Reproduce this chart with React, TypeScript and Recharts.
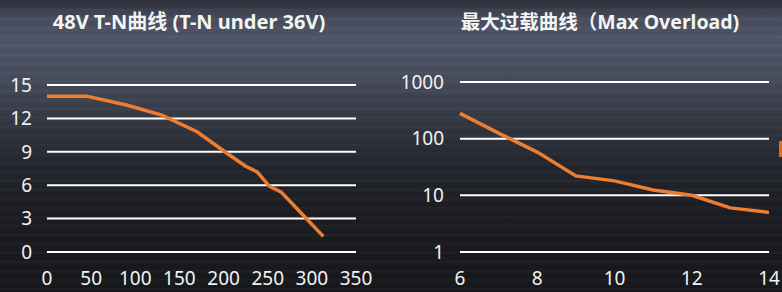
import React from 'react';
import { LineChart, Line, XAxis, YAxis, CartesianGrid } from 'recharts';

// T-N curve (speed rpm vs torque)
const tnSpeed = [0, 45, 90, 130, 170, 205, 225, 238, 252, 265, 283, 295, 313];
const tnTorque = [14, 14, 13.2, 12.3, 10.8, 8.8, 7.7, 7.2, 5.9, 5.4, 3.9, 2.9, 1.4];
const tnXTicks = [0, 50, 100, 150, 200, 250, 300, 350];
const tnYTicks = [0, 3, 6, 9, 12, 15];

// Max overload curve (log scale)
const olX = [6, 7, 8, 9, 10, 11, 12, 13, 14];
const olY = [280, 125, 58, 22, 18, 12.4, 10, 6, 5];
const olXTicks = [6, 8, 10, 12, 14];
const olYTicks = [1, 10, 100, 1000];

const tnData = tnSpeed.map((x, i) => ({ x, y: tnTorque[i] }));
const olData = olX.map((x, i) => ({ x, y: olY[i] }));

const FONT = '"Noto Sans", "Noto Sans CJK SC", sans-serif';
const ORANGE = '#ed7d31';
const tickStyle = { fill: '#f2f2f2', fontSize: 19, fontFamily: FONT };

const titleStyle: React.CSSProperties = {
  position: 'absolute',
  top: 9,
  color: '#f4f4f4',
  fontFamily: FONT,
  fontWeight: 700,
  whiteSpace: 'nowrap',
  transform: 'translateX(-50%)',
  lineHeight: '26px',
};

export default function App() {
  return (
    <div
      style={{
        position: 'fixed',
        left: 0,
        top: 0,
        width: 782,
        height: 292,
        overflow: 'hidden',
        background:
          'linear-gradient(180deg, #2b2e37 0%, #474d5d 6%, #50566a 14%, #454b5a 28%, #363a45 40%, #25282f 55%, #1c1e23 72%, #17181c 100%)',
      }}
    >
      <div
        style={{
          position: 'absolute',
          inset: 0,
          background:
            'repeating-linear-gradient(180deg, rgba(255,255,255,0.03) 0px, rgba(255,255,255,0) 3px, rgba(0,0,0,0.04) 6px, rgba(255,255,255,0) 9px)',
        }}
      />
      <div style={{ ...titleStyle, left: 189, fontSize: 20 }}>48V T-N曲线 (T-N under 36V)</div>
      <div style={{ ...titleStyle, left: 600, fontSize: 19.5 }}>最大过载曲线（Max Overload)</div>

      <div style={{ position: 'absolute', left: 0, top: 0 }}>
        <LineChart
          width={391}
          height={292}
          data={tnData}
          margin={{ top: 85, right: 35, bottom: 0, left: 0 }}
          style={{ overflow: 'visible' }}
        >
          <CartesianGrid vertical={false} stroke="#ffffff" strokeWidth={2} />
          <XAxis
            dataKey="x"
            type="number"
            domain={[0, 350]}
            ticks={tnXTicks}
            height={40}
            axisLine={false}
            tickLine={false}
            tickMargin={14}
            tick={tickStyle}
            interval={0}
          />
          <YAxis
            type="number"
            domain={[0, 15]}
            ticks={tnYTicks}
            width={47}
            axisLine={false}
            tickLine={false}
            tickMargin={9}
            tick={tickStyle}
            interval={0}
          />
          <Line dataKey="y" stroke={ORANGE} strokeWidth={3.5} dot={false} isAnimationActive={false} />
        </LineChart>
      </div>

      <div style={{ position: 'absolute', left: 391, top: 0 }}>
        <LineChart
          width={391}
          height={292}
          data={olData}
          margin={{ top: 82, right: 13, bottom: 0, left: 0 }}
          style={{ overflow: 'visible' }}
        >
          <CartesianGrid vertical={false} stroke="#ffffff" strokeWidth={2} />
          <XAxis
            dataKey="x"
            type="number"
            domain={[6, 14]}
            ticks={olXTicks}
            height={40}
            axisLine={false}
            tickLine={false}
            tickMargin={14}
            tick={tickStyle}
            interval={0}
          />
          <YAxis
            type="number"
            scale="log"
            domain={[1, 1000]}
            ticks={olYTicks}
            width={69}
            axisLine={false}
            tickLine={false}
            tickMargin={10}
            tick={tickStyle}
            interval={0}
            allowDataOverflow
          />
          <Line dataKey="y" stroke={ORANGE} strokeWidth={3.5} dot={false} isAnimationActive={false} />
        </LineChart>
      </div>

      <div style={{ position: 'absolute', left: 779, top: 141, width: 4, height: 16, background: '#e8670f' }} />
    </div>
  );
}
